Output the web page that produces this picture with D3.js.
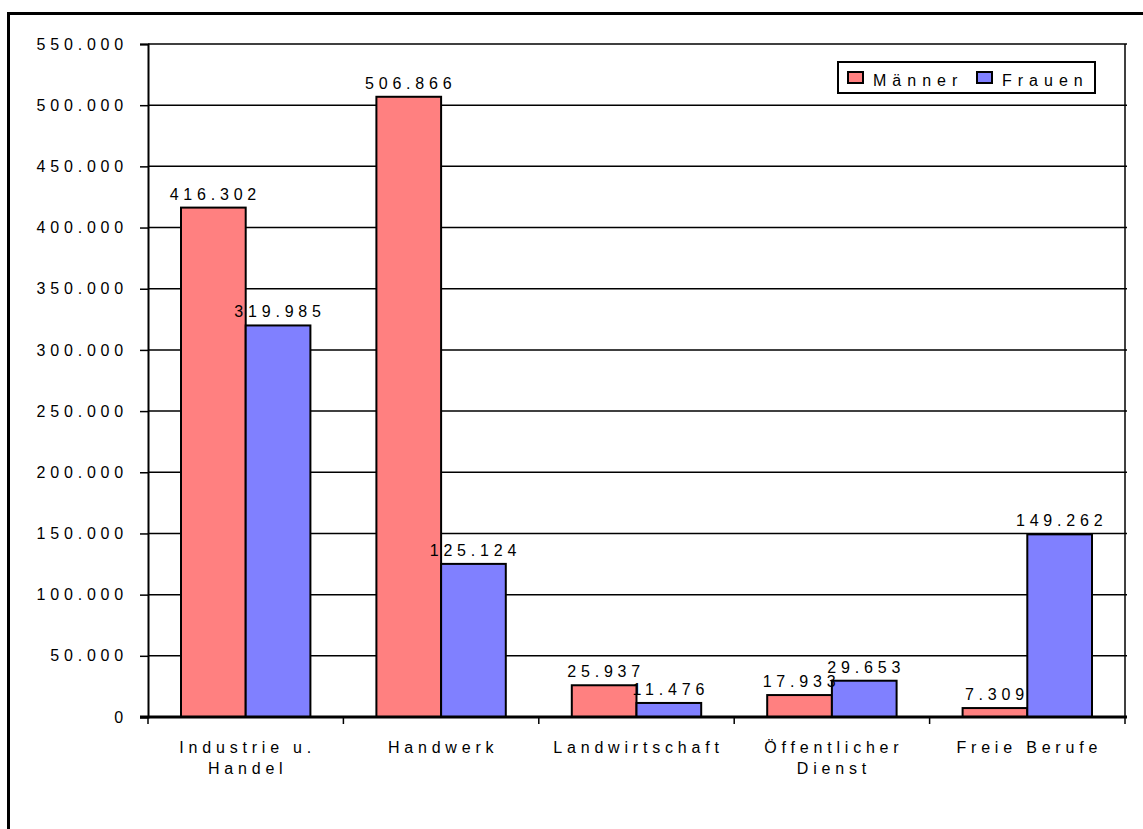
<!DOCTYPE html>
<html>
<head>
<meta charset="utf-8">
<script src="https://cdn.jsdelivr.net/npm/d3@7"></script>
<style>
  body { margin: 0; background: #fff; }
  svg text { font-family: "Liberation Sans", Arial, sans-serif; fill: #000; }
</style>
</head>
<body>
<div id="chart"></div>
<script>
// grouped bars, Männer vs Frauen per sector

const categories = [
  ["Industrie u.", "Handel"],
  ["Handwerk"],
  ["Landwirtschaft"],
  ["Öffentlicher", "Dienst"],
  ["Freie Berufe"]
];
const series = ["Männer", "Frauen"];
const maenner = [416302, 506866, 25937, 17933, 7309];
const frauen = [319985, 125124, 11476, 29653, 149262];
const yTicks = [0, 50000, 100000, 150000, 200000, 250000, 300000, 350000, 400000, 450000, 500000, 550000];

const colors = { "Männer": "#ff8080", "Frauen": "#8080ff" };

const W = 1143, H = 829;
const plot = { left: 148, right: 1125, top: 44, bottom: 717 };

const locale = d3.formatLocale({ decimal: ",", thousands: ".", grouping: [3], currency: ["", "€"] });
const fmt = locale.format(",d");

const svg = d3.select("#chart").append("svg")
  .attr("width", W)
  .attr("height", H);

// outer frame
svg.append("rect")
  .attr("x", 8.5).attr("y", 13.5)
  .attr("width", W + 20).attr("height", H + 20)
  .attr("fill", "none").attr("stroke", "#000").attr("stroke-width", 3);

const y = d3.scaleLinear().domain([0, 550000]).range([plot.bottom, plot.top]);
const x0 = d3.scaleBand().domain(d3.range(categories.length)).range([plot.left, plot.right]);
const x1 = d3.scaleBand().domain(series).range([33, x0.bandwidth() - 33]);

// gridlines
svg.append("g").selectAll("line")
  .data(yTicks.filter(d => d > 0))
  .enter().append("line")
  .attr("x1", plot.left).attr("x2", plot.right + 2)
  .attr("y1", d => y(d)).attr("y2", d => y(d))
  .attr("stroke", "#000").attr("stroke-width", 1.5);

// right border of plot
svg.append("line")
  .attr("x1", plot.right).attr("x2", plot.right)
  .attr("y1", plot.top).attr("y2", plot.bottom)
  .attr("stroke", "#000").attr("stroke-width", 1.5);

// y axis
const yAxis = svg.append("g")
  .attr("transform", `translate(${plot.left},0)`)
  .call(d3.axisLeft(y).tickValues(yTicks).tickFormat(fmt).tickSize(8).tickPadding(12));
yAxis.select(".domain").attr("stroke-width", 2);
yAxis.selectAll(".tick line").attr("stroke-width", 1.5);
yAxis.selectAll("text")
  .style("font-size", "16px")
  .style("letter-spacing", "4.8px")
  .attr("font-family", null);

// bars
const data = categories.map((c, i) => ({ i, values: [maenner[i], frauen[i]] }));
const groups = svg.append("g").selectAll("g")
  .data(data)
  .enter().append("g")
  .attr("transform", d => `translate(${x0(d.i)},0)`);

groups.selectAll("rect")
  .data(d => d.values.map((v, k) => ({ key: series[k], v })))
  .enter().append("rect")
  .attr("x", d => x1(d.key))
  .attr("y", d => y(d.v))
  .attr("width", x1.bandwidth())
  .attr("height", d => y(0) - y(d.v))
  .attr("fill", d => colors[d.key])
  .attr("stroke", "#000")
  .attr("stroke-width", 2);

groups.selectAll("text.val")
  .data(d => d.values.map((v, k) => ({ key: series[k], v })))
  .enter().append("text")
  .attr("class", "val")
  .attr("x", d => x1(d.key) + x1.bandwidth() / 2 + 2)
  .attr("y", d => y(d.v) - 8)
  .attr("text-anchor", "middle")
  .style("font-size", "16px")
  .style("letter-spacing", "4.8px")
  .text(d => fmt(d.v));

// x axis
const xAxis = svg.append("g")
  .attr("transform", `translate(0,${plot.bottom})`);
xAxis.append("line")
  .attr("x1", plot.left - 8).attr("x2", plot.right + 2)
  .attr("stroke", "#000").attr("stroke-width", 3);
xAxis.selectAll("line.tk")
  .data(d3.range(categories.length + 1))
  .enter().append("line")
  .attr("class", "tk")
  .attr("x1", i => plot.left + i * x0.bandwidth())
  .attr("x2", i => plot.left + i * x0.bandwidth())
  .attr("y1", 0).attr("y2", 7)
  .attr("stroke", "#000").attr("stroke-width", 1.5);

const labels = xAxis.selectAll("text.cat")
  .data(categories)
  .enter().append("text")
  .attr("class", "cat")
  .attr("text-anchor", "middle")
  .style("font-size", "16px")
  .style("letter-spacing", "4.8px");
labels.selectAll("tspan")
  .data((d, i) => d.map(line => ({ line, i })))
  .enter().append("tspan")
  .attr("x", d => x0(d.i) + x0.bandwidth() / 2 + 2)
  .attr("y", (d, k) => 36 + k * 21)
  .text(d => d.line);

// legend
const leg = svg.append("g").attr("transform", "translate(838,62)");
leg.append("rect")
  .attr("width", 257).attr("height", 31)
  .attr("fill", "#fff").attr("stroke", "#000").attr("stroke-width", 2);
const legX = [10, 139];
series.forEach((s, k) => {
  leg.append("rect")
    .attr("x", legX[k]).attr("y", 10)
    .attr("width", 15).attr("height", 11)
    .attr("fill", colors[s]).attr("stroke", "#000").attr("stroke-width", 2);
  leg.append("text")
    .attr("x", legX[k] + 25).attr("y", 24)
    .style("font-size", "16px")
    .style("letter-spacing", "6px")
    .text(s);
});
</script>
</body>
</html>
